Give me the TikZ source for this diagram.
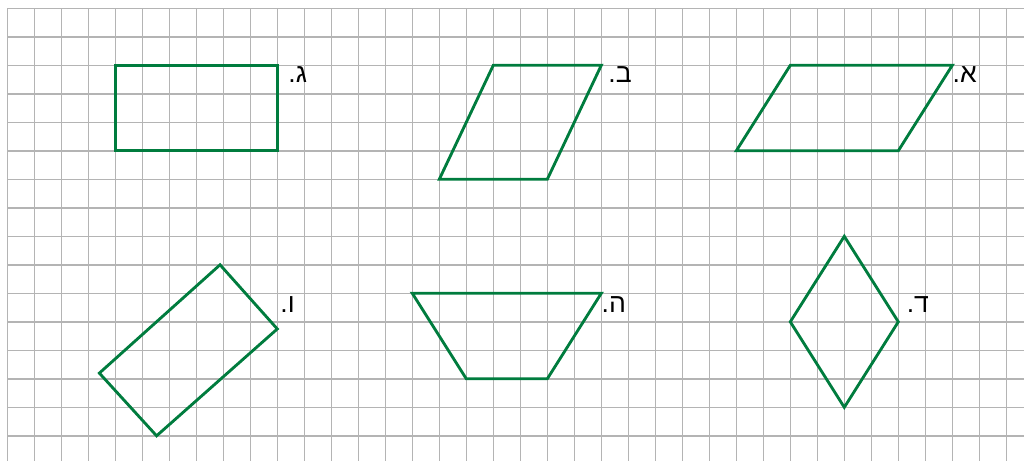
\documentclass[tikz,border=0pt]{standalone}
\usepackage{fontspec}
\usepackage{tikz}
\newfontfamily\hebfont[Script=Hebrew]{Liberation Sans}
\TeXXeTstate=1
\definecolor{shapegreen}{RGB}{0,124,62}
\definecolor{gridgray}{RGB}{180,180,180}

\begin{document}
\begin{tikzpicture}[x=0.5cm, y=-0.5278cm,
    gridline/.style={gridgray, line width=0.75pt},
    shapeline/.style={shapegreen, line width=1.5pt, line join=miter},
    label/.style={anchor=base west, inner sep=0pt, font=\hebfont\fontsize{14}{14}\selectfont}]
    \useasboundingbox (-0.27,-0.291) rectangle (37.656,15.884);

    \foreach \i in {0,...,37} \draw[gridline] (\i,0) -- (\i,15.9);
    \foreach \j in {0,...,15} \draw[gridline] (0,\j) -- (37.7,\j);

    % upper row
    \draw[shapeline] (4,2) rectangle (10,5);
    \draw[shapeline] (18,2) -- (22,2) -- (20,6) -- (16,6) -- cycle;
    \draw[shapeline] (29,2) -- (35,2) -- (33,5) -- (27,5) -- cycle;

    % lower row
    \draw[shapeline] (7.88,9) -- (10,11.25) -- (5.53,15) -- (3.41,12.8) -- cycle;
    \draw[shapeline] (15,10) -- (22,10) -- (20,13) -- (17,13) -- cycle;
    \draw[shapeline] (31,8) -- (33,11) -- (31,14) -- (29,11) -- cycle;

    \node[label] (gimel) at (10.4,2.62) {\beginR ג.\endR};
    \node[label] (bet)   at (22.25,2.62) {\beginR ב.\endR};
    \node[label] (alef)  at (35.0,2.62) {\beginR א.\endR};
    \node[label] (vav)   at (10.1,10.69) {\beginR ו.\endR};
    \node[label] (he)    at (22.0,10.69) {\beginR ה.\endR};
    \node[label] (dalet) at (33.3,10.66) {\beginR ד.\endR};
\end{tikzpicture}
\end{document}
